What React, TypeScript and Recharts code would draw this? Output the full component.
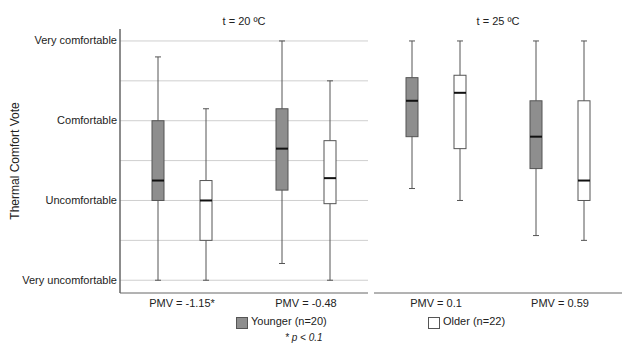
import React from 'react';
import { ComposedChart, Bar, XAxis, YAxis, CartesianGrid } from 'recharts';

// panels + categories
const panelTitles = ['t = 20 ºC', 't = 25 ºC'];
const panelCategories = [
  ['PMV = -1.15*', 'PMV = -0.48'],
  ['PMV = 0.1', 'PMV = 0.59'],
];

// y scale: thermal comfort vote
const yTickValues = [1, 2, 3, 4];
const yTickLabels = ['Very uncomfortable', 'Uncomfortable', 'Comfortable', 'Very comfortable'];
const gridValues = [1, 1.5, 2, 2.5, 3, 3.5, 4];

// box stats, one entry per category (left panel first)
const youngerMin = [1.0, 1.21, 2.15, 1.56];
const youngerQ1 = [2.0, 2.13, 2.8, 2.4];
const youngerMedian = [2.25, 2.65, 3.25, 2.8];
const youngerQ3 = [3.0, 3.15, 3.54, 3.25];
const youngerMax = [3.8, 4.0, 4.0, 4.0];

const olderMin = [1.0, 1.0, 2.0, 1.5];
const olderQ1 = [1.5, 1.96, 2.65, 2.0];
const olderMedian = [2.0, 2.28, 3.35, 2.25];
const olderQ3 = [2.25, 2.75, 3.57, 3.25];
const olderMax = [3.15, 3.5, 4.0, 4.0];

const seriesNames = ['Younger (n=20)', 'Older (n=22)'];
const footnote = '* p < 0.1';
const yAxisTitle = 'Thermal Comfort Vote';

const FONT = '"Liberation Sans", Arial, sans-serif';
const GREY = '#8e8e8e';
const DOMAIN: [number, number] = [0.84, 4.15];

const panelData = panelCategories.map((cats, p) =>
  cats.map((category, j) => {
    const i = p * 2 + j;
    return {
      category,
      younger: { min: youngerMin[i], q1: youngerQ1[i], median: youngerMedian[i], q3: youngerQ3[i], max: youngerMax[i] },
      older: { min: olderMin[i], q1: olderQ1[i], median: olderMedian[i], q3: olderQ3[i], max: olderMax[i] },
    };
  })
);

const makeBox = (group: 'younger' | 'older', fill: string) => (props: any) => {
  const { x, y, width, height, payload } = props;
  const s = payload[group];
  const k = Math.abs(height) / (s.max - s.min);
  const top = Math.min(y, y + height);
  const py = (v: number) => top + (s.max - v) * k;
  const cx = x + width / 2;
  return (
    <g>
      <line x1={cx} x2={cx} y1={py(s.max)} y2={py(s.min)} stroke="#555" />
      <line x1={cx - 3} x2={cx + 3} y1={py(s.max)} y2={py(s.max)} stroke="#555" />
      <line x1={cx - 3} x2={cx + 3} y1={py(s.min)} y2={py(s.min)} stroke="#555" />
      <rect x={x} y={py(s.q3)} width={width} height={py(s.q1) - py(s.q3)} fill={fill} stroke="#555" />
      <line x1={x} x2={x + width} y1={py(s.median)} y2={py(s.median)} stroke="#111" strokeWidth={2} />
    </g>
  );
};

// plain svg tick so long labels never wrap
const YTick = (props: any) => {
  const { x, y, payload } = props;
  return (
    <text x={x} y={y} dy="0.32em" textAnchor="end" fontSize={11} fontFamily={FONT} fill="#222">
      {yTickLabels[yTickValues.indexOf(payload.value)] ?? ''}
    </text>
  );
};

function Panel({ index }: { index: number }) {
  const first = index === 0;
  return (
    <ComposedChart
      width={first ? 368 : 254}
      height={345}
      data={panelData[index]}
      margin={{ top: 29, right: 0, bottom: 22, left: first ? 0 : 6 }}
      barSize={12}
      barGap={36}
    >
      <CartesianGrid vertical={false} horizontalValues={gridValues} stroke="#cfcfcf" />
      <XAxis
        dataKey="category"
        height={30}
        tickLine={false}
        tickSize={0}
        tickMargin={6}
        axisLine={{ stroke: '#666' }}
        tick={{ fill: '#222', fontSize: 11, fontFamily: FONT }}
        interval={0}
      />
      <YAxis
        type="number"
        domain={DOMAIN}
        ticks={yTickValues}
        width={first ? 120 : 0}
        tick={first ? <YTick /> : false}
        tickLine={false}
        tickSize={0}
        tickMargin={3}
        axisLine={{ stroke: '#666', strokeWidth: 1.5 }}
        allowDataOverflow
      />
      <Bar
        dataKey={(d: any) => [d.younger.min, d.younger.max]}
        name={seriesNames[0]}
        shape={makeBox('younger', GREY)}
        isAnimationActive={false}
      />
      <Bar
        dataKey={(d: any) => [d.older.min, d.older.max]}
        name={seriesNames[1]}
        shape={makeBox('older', '#fff')}
        isAnimationActive={false}
      />
    </ComposedChart>
  );
}

const text: React.CSSProperties = { position: 'absolute', fontSize: 11, color: '#222', whiteSpace: 'nowrap' };

export default function App() {
  return (
    <div style={{ position: 'absolute', left: 0, top: 0, width: 622, height: 345, overflow: 'hidden', background: '#fff', fontFamily: FONT }}>
      <div style={{ position: 'absolute', left: 0, top: 0 }}>
        <Panel index={0} />
      </div>
      <div style={{ position: 'absolute', left: 368, top: 0 }}>
        <Panel index={1} />
      </div>

      {/* facet titles */}
      <div style={{ ...text, left: 120, width: 248, top: 15, textAlign: 'center' }}>{panelTitles[0]}</div>
      <div style={{ ...text, left: 374, width: 248, top: 15, textAlign: 'center' }}>{panelTitles[1]}</div>

      {/* y axis title */}
      <div
        style={{
          ...text,
          fontSize: 12,
          left: 15,
          top: 161,
          transform: 'translate(-50%, -50%) rotate(-90deg)',
        }}
      >
        {yAxisTitle}
      </div>

      {/* legend */}
      <div style={{ position: 'absolute', left: 236, top: 317, width: 10, height: 10, background: GREY, border: '1px solid #555' }} />
      <div style={{ ...text, left: 251, top: 315 }}>{seriesNames[0]}</div>
      <div style={{ position: 'absolute', left: 428, top: 317, width: 10, height: 10, background: '#fff', border: '1px solid #555' }} />
      <div style={{ ...text, left: 443, top: 315 }}>{seriesNames[1]}</div>

      <div style={{ ...text, fontSize: 10, fontStyle: 'italic', left: 285, top: 332 }}>{footnote}</div>
    </div>
  );
}
